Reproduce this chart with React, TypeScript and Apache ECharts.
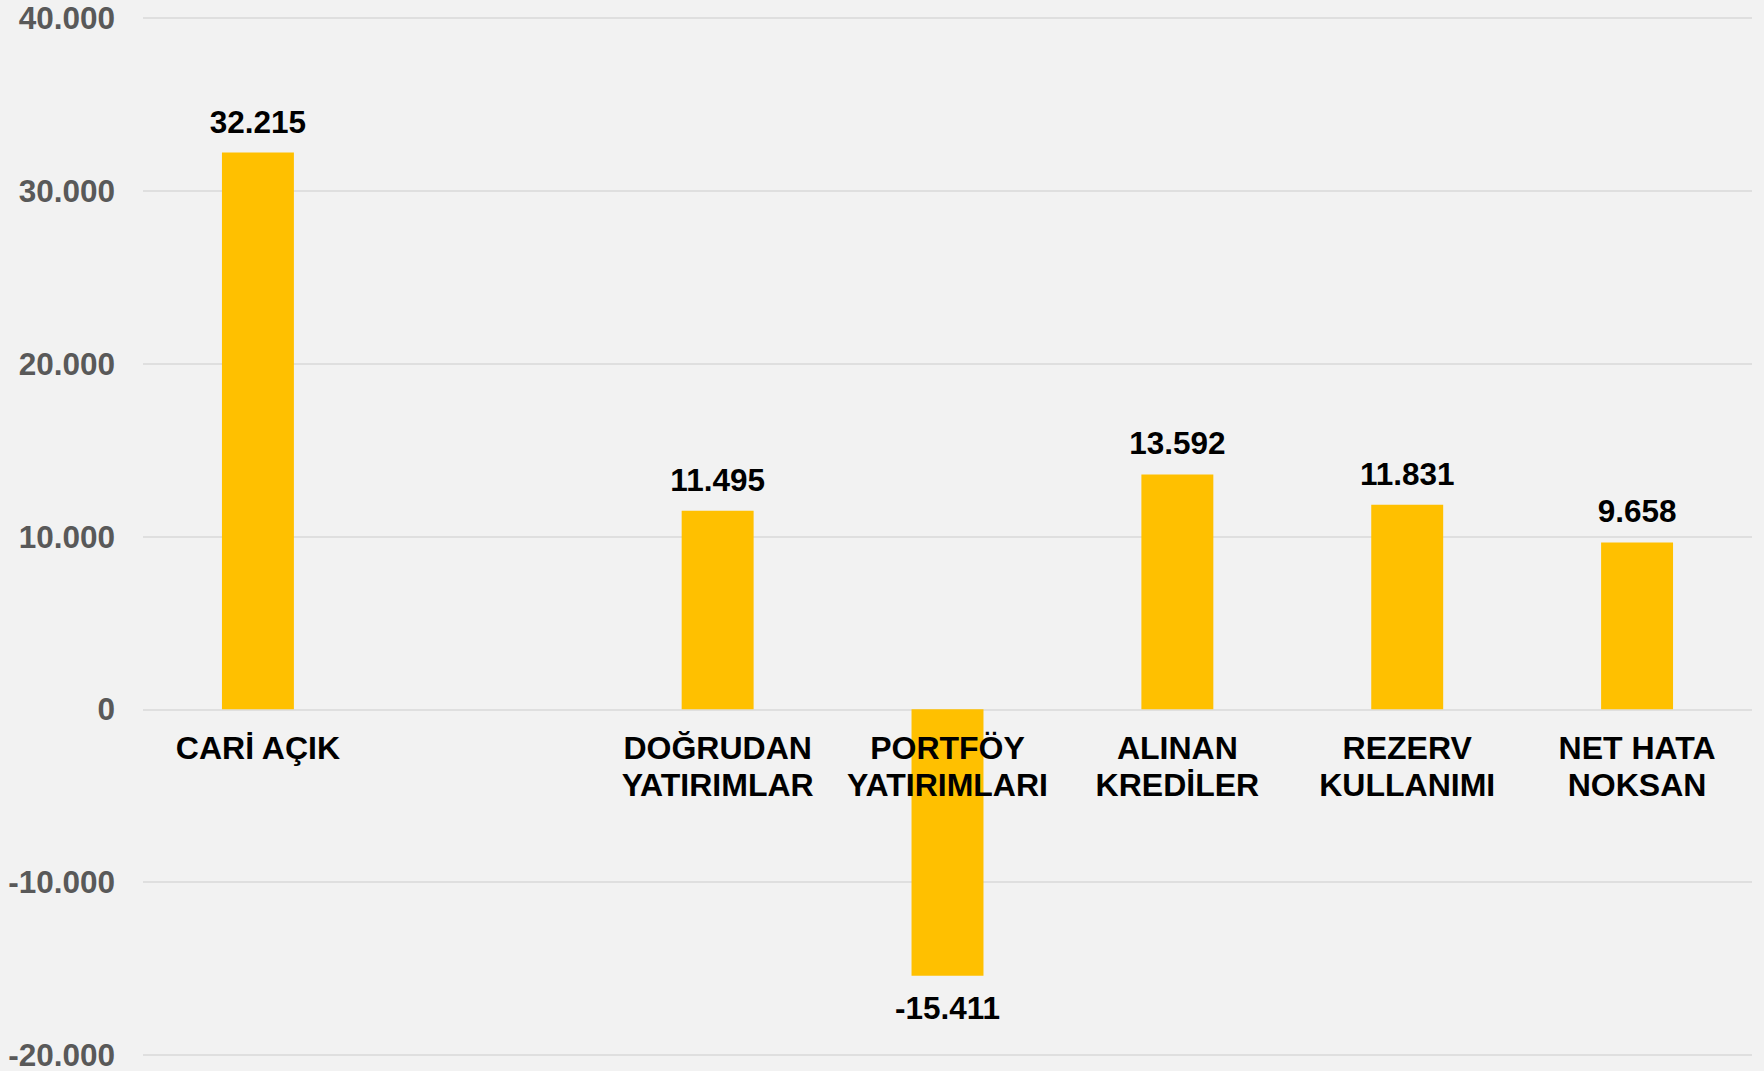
import React, { useEffect, useRef } from "react";
import * as echarts from "echarts";

const categories = [
  "CARİ AÇIK",
  "",
  "DOĞRUDAN\nYATIRIMLAR",
  "PORTFÖY\nYATIRIMLARI",
  "ALINAN\nKREDİLER",
  "REZERV\nKULLANIMI",
  "NET HATA\nNOKSAN",
];
const values: (number | null)[] = [32215, null, 11495, -15411, 13592, 11831, 9658];
const yMin = -20000;
const yMax = 40000;
const yStep = 10000;

const fmt = (v: number) => {
  const neg = v < 0;
  const s = Math.abs(Math.round(v)).toString().replace(/\B(?=(\d{3})+(?!\d))/g, ".");
  return (neg ? "-" : "") + s;
};

const FONT = '"Liberation Sans", Arial, sans-serif';

export default function App() {
  const ref = useRef<HTMLDivElement>(null);
  useEffect(() => {
    if (!ref.current) return;
    const chart = echarts.init(ref.current, null, { renderer: "svg" });
    chart.setOption({
      animation: false,
      backgroundColor: "#f2f2f2",
      grid: { left: 143, right: 12, top: 18, bottom: 15, containLabel: false },
      xAxis: {
        type: "category",
        data: categories,
        axisLine: { show: false },
        axisTick: { show: false },
        axisLabel: { show: false },
      },
      yAxis: {
        type: "value",
        min: yMin,
        max: yMax,
        interval: yStep,
        axisLine: { show: false },
        axisTick: { show: false },
        splitLine: { show: true, lineStyle: { color: "#d9d9d9", width: 1.5 } },
        axisLabel: {
          margin: 28,
          color: "#595959",
          fontFamily: FONT,
          fontWeight: "bold",
          fontSize: 31.5,
          formatter: (v: number) => fmt(v),
        },
      },
      series: [
        {
          type: "bar",
          data: values.map((v) =>
            v === null
              ? "-"
              : v < 0
              ? { value: v, label: { position: "bottom", distance: 16 } }
              : v
          ),
          barWidth: "31.3%",
          itemStyle: { color: "#ffc000" },
          label: {
            show: true,
            position: "top",
            distance: 15,
            color: "#000",
            fontFamily: FONT,
            fontWeight: "bold",
            fontSize: 31.5,
            formatter: (p: any) => fmt(p.value),
          },
        },
        {
          type: "scatter",
          z: 5,
          silent: true,
          symbolSize: 1,
          itemStyle: { color: "rgba(0,0,0,0)", opacity: 1 },
          data: categories
            .map((c, i) => (c ? [i, 0] : null))
            .filter((d) => d !== null),
          label: {
            show: true,
            position: "bottom",
            distance: 20,
            color: "#000",
            opacity: 1,
            fontFamily: FONT,
            fontWeight: "bold",
            fontSize: 32,
            lineHeight: 37,
            align: "center",
            formatter: (p: any) => categories[p.data[0]],
          },
        },
      ],
    });
    return () => chart.dispose();
  }, []);
  return (
    <div
      ref={ref}
      style={{ position: "fixed", left: 0, top: 0, width: 1764, height: 1071 }}
    />
  );
}
